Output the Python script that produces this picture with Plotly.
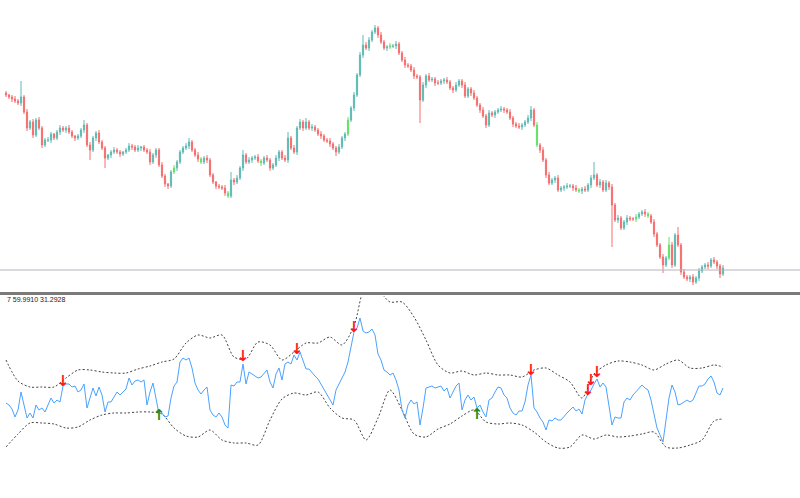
import plotly.graph_objects as go

# ---------------- price panel data (bar index, price units) ----------------
first_open = 207
closes = [
    205, 203, 201, 199, 197, 203, 188, 172, 178, 165,
    180, 172, 155, 160, 160, 166, 162, 168, 172, 170,
    172, 168, 164, 162, 164, 170, 175, 155, 150, 162,
    167, 158, 152, 142, 145, 148, 150, 148, 146, 148,
    150, 154, 153, 150, 152, 153, 150, 148, 138, 145,
    150, 135, 124, 116, 114, 128, 132, 138, 148, 152,
    154, 158, 150, 145, 141, 138, 142, 140, 125, 118,
    114, 113, 112, 107, 104, 120, 118, 122, 132, 145,
    138, 140, 142, 143, 139, 137, 142, 140, 132, 135,
    142, 148, 142, 140, 162, 152, 148, 172, 178, 172,
    178, 172, 173, 170, 166, 164, 160, 159, 156, 152,
    148, 153, 162, 166, 180, 192, 205, 225, 245, 255,
    252, 260, 268, 272, 265, 258, 252, 253, 254, 254,
    256, 247, 240, 235, 234, 230, 224, 223, 200, 215,
    224, 220, 221, 217, 217, 219, 220, 218, 212, 210,
    215, 219, 215, 204, 211, 207, 202, 195, 190, 184,
    175, 187, 185, 188, 190, 191, 190, 188, 182, 176,
    174, 173, 175, 178, 182, 190, 175, 155, 150, 140,
    125, 117, 120, 122, 110, 112, 113, 114, 114, 112,
    110, 109, 111, 110, 115, 122, 125, 115, 118, 110,
    117, 113, 95, 80, 82, 72, 78, 82, 81, 81,
    83, 86, 88, 86, 84, 78, 66, 55, 43, 35,
    42, 55, 35, 65, 55, 28, 23, 21, 23, 18,
    22, 29, 33, 35, 34, 40, 38, 34, 26, 32,
]
upper_wick = [
    2, 1, 2, 3, 2, 16, 2, 3, 2, 3,
    2, 3, 2, 2, 3, 2, 1, 2, 3, 2,
    2, 3, 2, 1, 2, 2, 5, 2, 3, 2,
    2, 3, 2, 2, 1, 2, 3, 2, 2, 1,
    2, 3, 2, 2, 3, 1, 2, 2, 3, 2,
    2, 2, 3, 2, 1, 2, 3, 2, 2, 2,
    3, 4, 2, 2, 3, 2, 2, 3, 2, 2,
    1, 2, 2, 3, 2, 8, 2, 3, 2, 5,
    2, 3, 2, 2, 3, 2, 2, 3, 2, 2,
    3, 2, 2, 3, 6, 2, 3, 2, 3, 2,
    4, 2, 3, 2, 2, 3, 2, 2, 3, 2,
    2, 3, 2, 2, 3, 2, 3, 2, 3, 10,
    3, 3, 2, 3, 2, 3, 2, 2, 3, 2,
    3, 2, 2, 3, 2, 2, 3, 2, 2, 3,
    2, 3, 2, 2, 3, 2, 2, 3, 2, 2,
    3, 2, 2, 3, 2, 2, 3, 2, 2, 3,
    2, 3, 2, 2, 2, 3, 2, 2, 3, 2,
    2, 3, 2, 2, 3, 4, 2, 3, 2, 3,
    2, 3, 2, 2, 3, 2, 2, 3, 2, 2,
    3, 2, 2, 3, 2, 3, 13, 2, 3, 2,
    3, 2, 3, 2, 3, 2, 2, 3, 2, 2,
    3, 2, 2, 3, 2, 2, 3, 2, 2, 3,
    2, 8, 3, 2, 8, 2, 3, 2, 2, 3,
    2, 3, 2, 2, 3, 2, 3, 2, 2, 3,
]
lower_wick = [
    2, 2, 3, 2, 2, 3, 2, 3, 2, 3,
    2, 2, 3, 2, 2, 3, 2, 2, 3, 2,
    3, 2, 2, 3, 2, 2, 3, 2, 10, 2,
    3, 2, 2, 10, 2, 3, 2, 2, 3, 2,
    2, 2, 3, 2, 2, 3, 2, 2, 3, 2,
    3, 2, 2, 3, 3, 2, 2, 3, 2, 2,
    2, 3, 2, 2, 3, 2, 2, 3, 2, 2,
    3, 2, 2, 3, 2, 2, 3, 2, 2, 3,
    2, 2, 3, 2, 2, 3, 2, 2, 3, 2,
    2, 3, 2, 2, 3, 2, 2, 3, 2, 3,
    2, 2, 3, 2, 2, 3, 2, 2, 3, 2,
    4, 2, 2, 3, 2, 2, 3, 2, 2, 3,
    2, 3, 2, 2, 3, 2, 2, 3, 2, 2,
    3, 2, 2, 3, 2, 2, 3, 2, 23, 2,
    3, 2, 2, 3, 2, 2, 3, 2, 2, 3,
    2, 2, 3, 2, 2, 3, 2, 2, 3, 2,
    3, 2, 2, 3, 2, 2, 3, 2, 2, 3,
    2, 2, 3, 2, 2, 3, 2, 2, 3, 2,
    3, 2, 2, 3, 2, 2, 3, 2, 2, 3,
    2, 2, 3, 2, 2, 3, 2, 2, 3, 2,
    2, 3, 42, 2, 3, 2, 2, 3, 2, 2,
    3, 2, 2, 3, 2, 2, 3, 2, 2, 8,
    2, 2, 3, 2, 2, 3, 2, 2, 3, 3,
    2, 3, 2, 2, 3, 2, 2, 3, 4, 2,
]
green_idx = [56, 65, 74, 85, 114, 128, 177, 191, 210, 214, 221]
level = 30

# ---------------- oscillator panel data ----------------
osc = [
    52.5, 51.5, 49.5, 45.5, 49, 58, 51.5, 45, 47.5, 45,
    51.5, 49, 50, 48, 51.5, 55, 52.5, 54, 53, 61,
    62, 62, 60.5, 61, 58, 59, 62, 50, 55, 60,
    56, 60.5, 56.5, 48, 53, 53, 55.5, 58, 56.5, 58,
    59.5, 65, 61.5, 63.5, 64, 63, 64, 51.5, 58, 62.5,
    54, 47, 47.5, 45.5, 46, 55, 61, 63, 73, 75,
    74, 75, 70, 62.5, 59, 57, 59, 60.5, 49, 46.5,
    45.5, 47.5, 45.5, 41.5, 40, 61.5, 61, 63, 63, 72,
    62, 68, 67, 66, 65, 65.5, 67, 69, 63, 60,
    67, 70, 64, 72, 73, 72, 76.5, 74, 78, 74,
    69.5, 69.5, 67.5, 66, 64.5, 62, 59, 56.5, 54, 51.5,
    59, 62, 65, 68, 73, 81.5, 88, 90, 95, 88.5,
    87.5, 88, 89.5, 86.5, 77, 74, 69, 68, 66.5, 67.5,
    64, 59, 49, 45, 51.5, 54, 52, 53, 41.5, 50,
    60, 60.5, 61, 60, 60.5, 61, 58.5, 60, 55, 58,
    61, 62.5, 49, 54, 56.5, 54, 55.5, 50, 51.5, 48,
    45.5, 54, 55, 58, 60.5, 60, 56.5, 55, 50, 47.5,
    46.5, 48.5, 48.5, 53, 61.5, 66.5, 50, 48, 45, 43,
    39, 44, 43.5, 45, 44, 44, 46, 47.5, 49, 50.5,
    48.5, 49.5, 47, 54, 57, 59, 62, 64.5, 60.5, 62.5,
    60.5, 52, 41.5, 45.5, 45, 45, 53, 55, 54, 56.5,
    58, 59.5, 61.5, 60, 59, 54, 46, 40, 36.5, 33,
    44, 55, 61.5, 58, 51.5, 52, 53, 54, 53, 54,
    57.5, 61, 61, 62, 64.5, 66, 63, 57.5, 56.5, 60,
]
band_idx = [
    0, 4, 8, 12, 16, 20, 24, 28, 32, 36, 40, 44, 48, 52, 56, 60,
    64, 68, 72, 76, 80, 84, 88, 92, 96, 100, 104, 108, 112, 116,
    120, 124, 128, 132, 136, 140, 144, 148, 152, 156, 160, 164,
    168, 172, 176, 180, 184, 188, 192, 196, 200, 204, 208, 212,
    216, 220, 224, 228, 232, 236, 239,
]
upper_band = [
    74, 63.5, 60.5, 60.5, 60.5, 65, 69, 69, 68, 67.5, 67.5, 69.5, 71, 73,
    74.5, 82.5, 86.5, 85, 86.5, 75.5, 74.5, 83, 81.5, 74, 78, 82.5, 82.5,
    85.5, 81.5, 91, 111.5, 109, 103, 103, 95.5, 84, 71.5, 67.5, 68.5, 66.5,
    67.5, 66.5, 66.5, 65.5, 69, 70, 66.5, 63, 55, 67, 71.5, 73.5, 73, 71.5,
    69, 72, 74, 70, 70, 71.5, 70.5,
]
lower_band = [
    30.5, 37, 42.5, 42.5, 42, 40, 40.5, 44, 46.5, 47.5,
    47.5, 48, 48, 47, 40, 36, 35.5, 39, 34, 32.5,
    32.5, 31.5, 44, 54.5, 57.5, 56.5, 58, 50, 45, 44,
    34, 45, 59, 49, 37, 35.5, 39.5, 42, 46, 49,
    43, 42, 42.5, 41.5, 38, 33, 30, 30.5, 36.5, 34.5,
    36.5, 35.5, 36, 37, 38, 30.5, 30, 31.5, 34, 43.5,
    44.5,
]
sell_idx = [19, 79, 97, 116, 175, 194, 195, 197]
sell_val = [63, 75.5, 79, 90, 68.5, 58.5, 63.5, 67.5]
buy_idx = [51, 157]
buy_val = [46, 46.5]
label_text = "7 59.9910 31.2928"

# ---------------- build OHLC ----------------
n = len(closes)
idx = list(range(n))
opens = [first_open] + closes[:-1]
highs = [max(o, c) + w for o, c, w in zip(opens, closes, upper_wick)]
lows = [min(o, c) - w for o, c, w in zip(opens, closes, lower_wick)]

main_idx = [i for i in idx if i not in green_idx]

UP = "#5fbab4"
DOWN = "#f56e6e"
GREEN = "#66e066"

fig = go.Figure()
fig.add_trace(go.Candlestick(
    x=main_idx,
    open=[opens[i] for i in main_idx], high=[highs[i] for i in main_idx],
    low=[lows[i] for i in main_idx], close=[closes[i] for i in main_idx],
    increasing=dict(line=dict(color=UP, width=1), fillcolor=UP),
    decreasing=dict(line=dict(color=DOWN, width=1), fillcolor=DOWN),
    whiskerwidth=0, xaxis="x", yaxis="y", hoverinfo="skip",
))
fig.add_trace(go.Candlestick(
    x=green_idx,
    open=[opens[i] for i in green_idx], high=[highs[i] for i in green_idx],
    low=[lows[i] for i in green_idx], close=[closes[i] for i in green_idx],
    increasing=dict(line=dict(color=GREEN, width=1), fillcolor=GREEN),
    decreasing=dict(line=dict(color=GREEN, width=1), fillcolor=GREEN),
    whiskerwidth=0, xaxis="x", yaxis="y", hoverinfo="skip",
))

# bands
band_line = dict(color="#444444", width=1, dash="2px,2px", shape="spline", smoothing=0.8)
fig.add_trace(go.Scatter(
    x=band_idx, y=upper_band, mode="lines", line=band_line,
    xaxis="x2", yaxis="y2", hoverinfo="skip",
))
fig.add_trace(go.Scatter(
    x=band_idx, y=lower_band, mode="lines", line=band_line,
    xaxis="x2", yaxis="y2", hoverinfo="skip",
))
# oscillator line
fig.add_trace(go.Scatter(
    x=idx, y=osc, mode="lines", line=dict(color="#4aa2ff", width=1),
    xaxis="x2", yaxis="y2", hoverinfo="skip",
))
# signal arrows
fig.add_trace(go.Scatter(
    x=sell_idx, y=sell_val, mode="text", text=["↓"] * len(sell_idx),
    textfont=dict(color="#ff1a1a", size=15, family="DejaVu Sans", weight="bold"),
    xaxis="x2", yaxis="y2", hoverinfo="skip",
))
fig.add_trace(go.Scatter(
    x=buy_idx, y=buy_val, mode="text", text=["↑"] * len(buy_idx),
    textfont=dict(color="#1e8c1e", size=15, family="DejaVu Sans", weight="bold"),
    xaxis="x2", yaxis="y2", hoverinfo="skip",
))

W, H = 800, 498
top_bottom_px = 292
sub_top_px = 296
xr = [-2, (W - 6) / 3]

axis_common = dict(showgrid=False, zeroline=False, showticklabels=False, ticks="", showline=False, fixedrange=True)

fig.update_layout(
    width=W, height=H,
    margin=dict(l=0, r=0, t=0, b=0),
    paper_bgcolor="white", plot_bgcolor="white",
    showlegend=False,
    boxgap=0.45,
    xaxis=dict(domain=[0, 1], range=xr, anchor="y", rangeslider=dict(visible=False), **axis_common),
    yaxis=dict(domain=[(H - top_bottom_px) / H, 1], range=[8, 300], anchor="x", **axis_common),
    xaxis2=dict(domain=[0, 1], range=xr, anchor="y2", **axis_common),
    yaxis2=dict(domain=[0, (H - sub_top_px) / H], range=[5, 106], anchor="x2", **axis_common),
    shapes=[
        dict(type="line", xref="paper", yref="y", x0=0, x1=1, y0=level, y1=level,
             line=dict(color="#b4b4bc", width=1)),
        dict(type="line", xref="paper", yref="paper", x0=0, x1=1,
             y0=(H - 293.5) / H, y1=(H - 293.5) / H, line=dict(color="#7a7a7a", width=3)),
    ],
    annotations=[
        dict(text=label_text, xref="paper", yref="paper", x=5 / W, y=(H - 299.5) / H,
             xanchor="left", yanchor="middle", showarrow=False,
             font=dict(family="Liberation Sans", size=7, color="#222222")),
    ],
)

fig.write_html("out.html", config={"displayModeBar": False})
